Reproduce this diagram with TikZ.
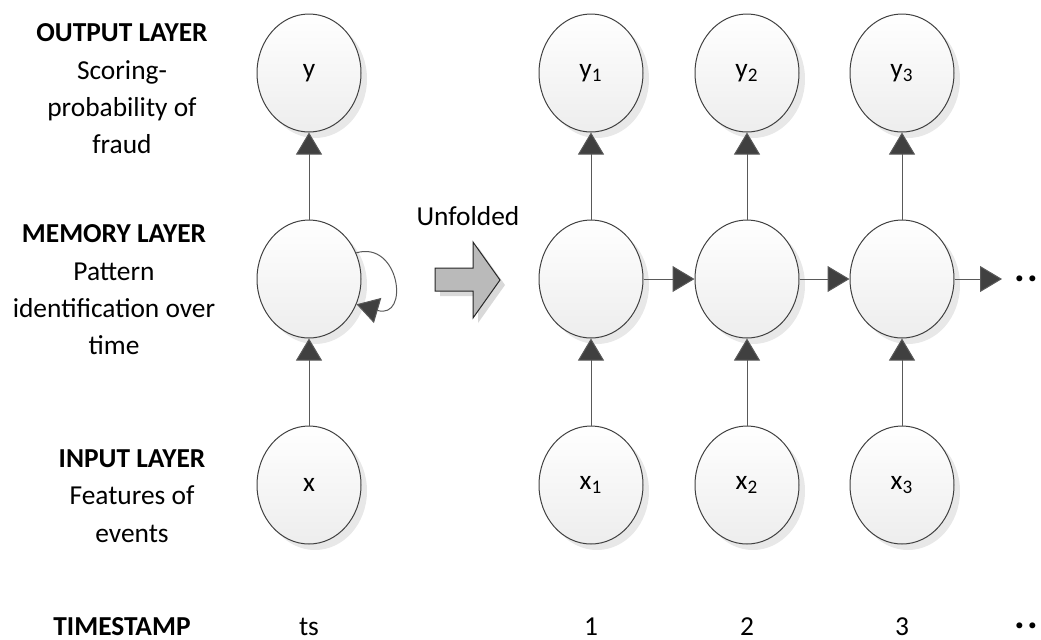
\documentclass[tikz,border=0pt]{standalone}
\usepackage{fontspec}
\setmainfont{Carlito}
\usetikzlibrary{arrows.meta,shadows,shapes.geometric}
\begin{document}
\begin{tikzpicture}[x=0.5pt,y=-0.5pt,font=\fontsize{13.7}{18.7}\selectfont,
  unit/.style={ellipse,draw=black!75,line width=0.5pt,minimum width=52pt,minimum height=59pt,inner sep=0pt,
    top color=white,bottom color=black!7,drop shadow={shadow xshift=3pt,shadow yshift=-3pt,fill=black!18}},
  link/.style={draw=black!65,line width=0.5pt,-{Triangle[length=11pt,width=13pt,fill=black!75]}},
  layer/.style={align=center,inner sep=0pt},
  stamp/.style={anchor=base,inner sep=0pt}]
  \useasboundingbox (0,0) rectangle (1041,639);
  \node[layer] (lo) at (122,89) {\textbf{OUTPUT LAYER}\\Scoring-\\probability of\\fraud};
  \node[layer] (lm) at (114,290) {\textbf{MEMORY LAYER}\\Pattern\\identification over\\time};
  \node[layer] (li) at (132,496) {\textbf{INPUT LAYER}\\Features of\\events};
  \node[stamp] (lt) at (122,635) {\textbf{TIMESTAMP}};
  \node[unit] (y0) at (309,73) {y};
  \node[unit] (m0) at (309,279) {};
  \node[unit] (x0) at (309,485) {x};
  \node[stamp] (t0) at (309,635) {ts};
  \draw[link] (x0) -- (m0);
  \draw[link] (m0) -- (y0);
  \draw[link] (m0.29) .. controls (400,240) and (410,320) .. (m0.-28);
  \fill[black!15] (440,273) -- (478,273) -- (478,247) -- (505,285) -- (478,323) -- (478,296) -- (440,296) -- cycle;
  \filldraw[fill=black!27,draw=black!85,line width=0.5pt] (435,268) -- (473,268) -- (473,242) -- (500,280) -- (473,318) -- (473,291) -- (435,291) -- cycle;
  \node[stamp] (uf) at (468,225) {Unfolded};
  \foreach \i/\cx in {1/591,2/747,3/902} {
    \node[unit] (y\i) at (\cx,73) {y\textsubscript{\i}};
    \node[unit] (m\i) at (\cx,279) {};
    \node[unit] (x\i) at (\cx,485) {x\textsubscript{\i}};
    \node[stamp] (t\i) at (\cx,635) {\i};
    \draw[link] (x\i) -- (m\i);
    \draw[link] (m\i) -- (y\i);
  }
  \coordinate (next) at (1002,279);
  \draw[link] (m1) -- (m2);
  \draw[link] (m2) -- (m3);
  \draw[link] (m3) -- (next);
  \node[font=\fontsize{20}{20}\selectfont] (d1) at (1026,279) {\textbf{.\kern1pt.}};
  \node[font=\fontsize{20}{20}\selectfont] (d2) at (1026,626) {\textbf{.\kern1pt.}};
\end{tikzpicture}
\end{document}
